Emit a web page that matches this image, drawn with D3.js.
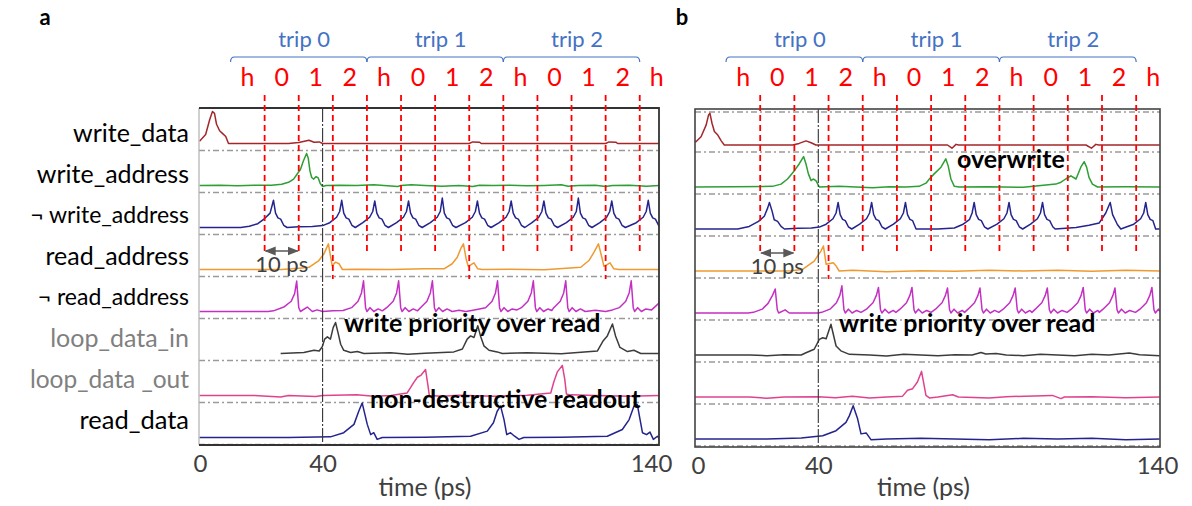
<!DOCTYPE html>
<html>
<head>
<meta charset="utf-8">
<script src="https://cdn.jsdelivr.net/npm/d3@7"></script>
<style>
  body { margin: 0; background: #fff; }
  svg { display: block; font-family: Lato, "Open Sans", sans-serif; }
</style>
</head>
<body>
<svg width="1192" height="506"></svg>
<script>
// ---- data (time in ps, value in normalised trace units) ----
const rows = ["write_data", "write_address", "\u00AC write_address", "read_address",
              "\u00AC read_address", "loop_data_in", "loop_data _out", "read_data"];
const slotNames = ["h", "0", "1", "2"];
const tripNames = ["trip 0", "trip 1", "trip 2"];
const tickValues = [0, 40, 140];
const slotEdges = [23, 33, 43, 53, 63, 73, 83, 93, 103, 113, 123, 133];
const slotCentres = [18, 28, 38, 48, 58, 68, 78, 88, 98, 108, 118, 128, 138];
const tripStarts = [13, 53, 93];
const readEdgesA = [43, 83, 123];
const readEdgesB = [43];

// panel a
const aWriteData = [[3.9,0.07],[5.7,0.28],[6.9,0.75],[7.7,1.0],[8.3,0.94],[8.9,0.6],[9.8,0.4],[10.7,0.31],[11.6,0.22],[12.4,0],
  [30,0],[33,0.03],[35,0.08],[36,0.1],[37.5,0.04],[39,0.05],[40,0],[83,0],[84,0.05],[86,0.04],[86.5,0],[123,0],[124,0.05],[126,0.04],[126.5,0],[139,0]];
const aWriteAddr = [[3.9,0],[10,0.01],[15,-0.01],[20,0.01],[25,0.01],[28,0.04],[30,0.1],[31.5,0.2],[32.8,0.4],[33.5,0.5],[34.3,0.75],[35.3,1.0],
  [35.8,0.85],[36.3,0.45],[36.8,0.25],[37.4,0.2],[38.1,0.28],[38.7,0.24],[39.3,0.06],[40,-0.03],[41,0],[45,0.01],[50,0],[55,0.02],[58,0],
  [62,-0.03],[63,0],[66,0.02],[70,0],[75,-0.02],[80,0],[84,-0.03],[86,0.01],[90,0],[95,0.01],[100,-0.01],[105,0],[110,0.02],[112,-0.02],
  [115,0],[120,0.01],[123,-0.03],[125,0],[130,0.01],[135,-0.02],[139,0]];
const aNotWrite = [[3.9,0],[16,0],[18.5,0.04],[21,0.12],[23,0.28],[24.6,0.45],
  [25.6,0.85],[26.2,0.45],[26.9,0.3],[27.7,0.26],[28.6,0.07],[29.6,0],[33,0.02],[37,0.03],[40,0.06],
  [42.1,0.15],[44.1,0.32],[45,0.5],[45.6,0.85],[46.2,0.45],[46.9,0.3],[47.7,0.26],[48.6,0.07],[49.6,0],
  [51.8,0.15],[53.8,0.32],[54.7,0.5],[55.3,0.83],[55.9,0.45],[56.6,0.3],[57.4,0.26],[58.3,0.07],[59.3,0],
  [61.7,0.15],[63.7,0.32],[64.6,0.5],[65.2,0.83],[65.8,0.45],[66.5,0.3],[67.3,0.26],[68.2,0.07],[69.2,0],
  [71.6,0.15],[73.6,0.32],[74.5,0.5],[75.1,0.92],[75.7,0.45],[76.4,0.3],[77.2,0.26],[78.1,0.07],[79.1,0],
  [81.9,0.15],[83.9,0.32],[84.8,0.5],[85.4,0.83],[86,0.45],[86.7,0.3],[87.5,0.26],[88.4,0.07],[89.4,0],
  [91.8,0.15],[93.8,0.32],[94.7,0.5],[95.3,0.83],[95.9,0.45],[96.6,0.3],[97.4,0.26],[98.3,0.07],[99.3,0],
  [101.4,0.15],[103.4,0.32],[104.3,0.5],[104.9,0.83],[105.5,0.45],[106.2,0.3],[107,0.26],[107.9,0.07],[108.9,0],
  [111.5,0.15],[113.5,0.32],[114.4,0.5],[115,0.92],[115.6,0.45],[116.3,0.3],[117.1,0.26],[118,0.07],[119,0],
  [121.3,0.15],[123.3,0.32],[124.2,0.5],[124.8,0.83],[125.4,0.45],[126.1,0.3],[126.9,0.26],[127.8,0.07],[128.8,0],
  [132,0.15],[134,0.32],[134.9,0.5],[135.5,0.85],[136.1,0.45],[136.8,0.3],[137.6,0.26],[138.5,0.07],[139,0.02]];
const aReadAddr = [[3.9,0],[28,0],[31,0.02],[34,0.05],[36,0.07],[38.9,0.28],[40.4,0.49],[41.7,0.8],[42.8,0.12],[43.8,0.23],[44.8,0.18],[45.8,0],
  [50,0.01],[60,0],[70,0.02],[75.6,0.02],[78,0.18],[79.5,0.38],[80.5,0.65],[81.3,0.8],[82.1,0.33],[82.7,0.1],[84.4,0.21],[85.5,0.02],[86.8,0],
  [95,0.01],[105,-0.01],[115.7,0.07],[118.1,0.28],[119.6,0.54],[120.9,0.8],[122,0.33],[122.5,0.1],[124.3,0.21],[125.4,0.02],[126.9,0],[139,0]];
const aNotRead = [[3.9,0],[24,0],[25.6,0.02],[28.8,0.15],[30.8,0.32],[31.8,0.56],[32.4,0.95],[33,0.12],[33.5,0],[35.5,0.14],[37,0],[38.4,0.05],[40,0],[43,0.02],[46,0.03],
  [48.5,0.12],[50.4,0.32],[51.4,0.58],[52,0.96],[52.6,0.12],[53,0],[53.9,0.12],[55,0],[56.3,0.08],[57.5,0.02],
  [58.8,0.12],[60.7,0.32],[61.7,0.58],[62.3,0.96],[62.9,0.12],[63.3,0],[64.2,0.12],[65.3,0],[66.6,0.08],[67.8,0.02],
  [68.7,0.12],[70.6,0.32],[71.6,0.58],[72.2,0.96],[72.8,0.12],[73.2,0],[74.1,0.12],[75.2,0],[76.5,0.08],[78,0],[80,0.04],[82,0],[84.5,0.05],
  [87.8,0.12],[89.7,0.32],[90.7,0.58],[91.3,0.96],[91.9,0.12],[92.3,0],[93.2,0.12],[94.3,0],[95.6,0.08],[97,0.05],
  [98.3,0.12],[100.2,0.32],[101.2,0.58],[101.8,0.96],[102.4,0.12],[102.8,0],[103.7,0.12],[104.8,0],[106.1,0.08],[107.2,0.03],
  [107.8,0.12],[109.7,0.32],[110.7,0.58],[111.3,0.96],[111.9,0.12],[112.3,0],[113.2,0.12],[114.3,0],[115.6,0.08],[117,0],[120,0.04],[123,0],[125,0.05],
  [127,0.12],[128.9,0.32],[129.9,0.58],[130.5,0.96],[131.1,0.12],[131.5,0],[132.4,0.12],[133.5,0],[134.8,0.08],[136.5,0.05],[138,0.2],[139,0.3]];
const aLoopIn = [[27.7,0],[34.5,0.03],[37.5,0.1],[39,0.08],[39.9,0.21],[40.6,0.45],[41.4,0.52],[42.3,0.45],[43.1,0.81],[43.8,0.97],[44.5,0.66],
  [45.3,0.29],[46.2,0.1],[48.2,0.03],[50.2,0.06],[52.1,0],[60,0.02],[65,-0.02],[70,0.01],[78.5,0.05],[81,0.14],[82.4,0.45],[83.4,0.55],
  [84.4,0.5],[85.5,0.87],[86.3,0.55],[87.3,0.24],[88.8,0.1],[91.2,0.05],[92.7,0],[100,0.02],[110,-0.01],[120.6,0.08],[122.3,0.4],[123.5,0.55],
  [125,0.92],[125.9,0.55],[127.2,0.19],[129.4,0.06],[131.3,0.1],[133.3,0],[139,0]];
const aLoopOut = [[3.9,0],[20,0],[27.7,-0.05],[30,0],[38,-0.03],[40,0],[50,0.02],[55,-0.02],[60,0],[64.8,0.08],[66.8,0.42],[67.8,0.57],
  [68.9,0.64],[70.2,0.81],[70.9,0.31],[71.3,0],[75,-0.02],[80,0.01],[90,-0.02],[100,0.01],[106.9,0.08],[107.8,0.42],[108.8,0.73],
  [110.3,0.94],[111,0.52],[111.5,0.05],[112.7,0.02],[120,0],[130,-0.02],[139,0]];
const aReadData = [[3.9,0],[30,0],[42.3,0.02],[46.2,0.15],[49.2,0.41],[50.6,0.82],[51.6,1.08],[52.3,0.77],[53.1,0.41],[54.1,0.09],[55,0.15],
  [56,-0.06],[57.5,0],[70,0.01],[83.4,0.04],[88.3,0.2],[90.1,0.46],[91.2,0.82],[92.2,0.98],[93.2,0.56],[94,0.09],[95.1,0.15],[96.3,0.04],
  [97.6,-0.06],[99,0],[110,0.01],[123.5,0.04],[127.9,0.25],[129.9,0.56],[131.3,0.98],[132.3,1.03],[133.1,0.56],[133.8,0.15],[135,0.09],
  [136,0.17],[137,-0.06],[138.2,0.04],[139,-0.05]];

// panel b
const bWriteData = [[3.7,0.12],[4.2,0.1],[5.7,0.26],[7.2,0.63],[7.9,0.94],[8.3,0.99],[8.9,0.68],[9.6,0.42],[10.6,0.31],[11.6,0.13],[12.5,0],
  [32.5,0],[34.4,0.05],[36.4,0.13],[37.9,0.07],[39.3,0],[77.8,0],[79.1,-0.1],[80.3,0.02],[81,0],[118.3,0],[119.9,-0.1],[121.2,0.02],[122,0],[139.9,0]];
const bWriteAddr = [[3.7,0],[15,0.01],[26.6,0.02],[29.1,0.09],[31,0.25],[33,0.51],[34.4,0.72],[35.7,0.95],[36.4,0.72],[37.1,0.41],[37.9,0.2],
  [38.5,0.25],[39.3,0.2],[40.3,0],[46.1,0.02],[55.9,-0.02],[60.8,0.01],[65.6,0],[69.5,0.02],[71.5,0.12],[72.5,0.25],[73.9,0.41],[75.9,0.62],
  [77.3,0.88],[78,0.66],[78.8,0.25],[79.8,0.02],[81.2,0],[90,0.01],[100,-0.01],[109.5,0.09],[111,0.15],[112.4,0.25],[113.9,0.35],[115.4,0.25],
  [116.8,0.62],[117.8,0.79],[118.5,0.62],[119.2,0.3],[120.2,0.09],[121.7,0],[130,0.01],[139.9,0]];
const bNotWrite = [[3.7,0],[16.4,0],[19.8,0.08],[22.5,0.24],[24.2,0.4],[25.2,0.66],[25.7,0.83],[26.5,0.55],[27.1,0.29],[28.1,0.24],[29.1,0.08],
  [30.1,0],[34,0.02],[38,0.03],[40.3,0.06],
  [42.3,0.15],[44.3,0.32],[45.2,0.5],[45.8,0.83],[46.4,0.45],[47.1,0.3],[47.9,0.26],[48.8,0.07],[49.8,0],
  [52.1,0.15],[54.1,0.32],[55,0.5],[55.6,0.83],[56.2,0.45],[56.9,0.3],[57.7,0.26],[58.6,0.07],[59.6,0],
  [62,0.15],[64,0.32],[64.9,0.5],[65.5,0.83],[66.1,0.45],[66.8,0.3],[67.6,0.26],[68.6,0],[75,0],[79.8,0.03],[82.2,0.14],[84.2,0.29],[85,0.5],
  [85.6,0.83],[86.2,0.45],[86.9,0.3],[87.7,0.26],[88.6,0.07],[89.6,0],
  [92.3,0.15],[94.3,0.32],[95.2,0.5],[95.8,0.83],[96.4,0.45],[97.1,0.3],[97.9,0.26],[98.8,0.07],[99.8,0],
  [102.1,0.15],[104.1,0.32],[105,0.5],[105.6,0.83],[106.2,0.45],[106.9,0.3],[107.7,0.26],[108.6,0.07],[109.3,0],
  [115.4,0.05],[119.2,0.12],[122.2,0.19],[124.1,0.5],[125.4,0.83],[126.1,0.45],[127.5,0.14],[128.5,0],
  [132.3,0.15],[134.3,0.32],[135.2,0.5],[135.8,0.83],[136.4,0.45],[137.1,0.3],[137.9,0.26],[138.7,0],[139.9,0]];
const bReadAddr = [[3.7,0],[28,0],[32,0.01],[35.4,0.05],[38.8,0.31],[40.8,0.63],[41.5,0.78],[42.3,0.21],[44.4,0.26],[45.2,0.16],[46.1,0],
  [50,0.02],[60,-0.02],[70,0.01],[80,-0.01],[90,0.02],[100,0],[110,0.02],[120,-0.01],[130,0.02],[139.9,0]];
const bNotRead = [[3.7,0],[19.5,0],[21,0.02],[23.6,0.12],[25.3,0.3],[26.6,0.55],[27.4,0.75],[28,0.1],[28.4,0],[30.3,0.1],[31.5,0],[40,0],[41,0.02],
  [43.4,0.12],[45.3,0.32],[46.3,0.55],[46.9,0.85],[47.5,0.1],[47.9,0],[48.8,0.12],[49.9,0],[51.2,0.08],[52.5,0.02],
  [54.1,0.12],[56,0.32],[57,0.55],[57.6,0.8],[58.2,0.1],[58.6,0],[59.5,0.12],[60.6,0],[61.9,0.08],[62.7,0.02],
  [63.9,0.12],[65.8,0.32],[66.8,0.55],[67.4,0.8],[68,0.1],[68.4,0],[69.3,0.12],[70.4,0],[71.7,0.08],[73,0.02],
  [74.3,0.12],[76.2,0.32],[77.2,0.55],[77.8,0.78],[78.4,0.1],[78.8,0],[79.7,0.12],[80.8,0],[82.1,0.08],[82.8,0.02],
  [83.8,0.12],[85.7,0.32],[86.7,0.55],[87.3,0.78],[87.9,0.1],[88.3,0],[89.2,0.12],[90.3,0],[91.6,0.08],[92.8,0.02],
  [94.1,0.12],[96,0.32],[97,0.55],[97.6,0.78],[98.2,0.1],[98.6,0],[99.5,0.12],[100.6,0],[101.9,0.08],[102.5,0.02],
  [103.5,0.12],[105.4,0.32],[106.4,0.55],[107,0.78],[107.6,0.1],[108,0],[108.9,0.12],[110,0],[111.3,0.08],[112.8,0.02],
  [114,0.12],[115.9,0.32],[116.9,0.55],[117.5,0.8],[118.1,0.1],[118.5,0],[119.4,0.12],[120.5,0],[121.8,0.08],[122.2,0.02],
  [123.3,0.12],[125.2,0.32],[126.2,0.55],[126.8,0.78],[127.4,0.1],[127.8,0],[128.7,0.12],[129.8,0],[131.1,0.08],[132.8,0.02],
  [134.1,0.12],[136,0.32],[137,0.55],[137.6,0.8],[138.2,0.1],[138.6,0],[139.5,0.12],[139.9,0.05]];
const bLoopIn = [[3.7,0],[20,0],[25,-0.02],[30,0.01],[35,0],[36.4,0.07],[38.8,0.18],[40.3,0.49],[41.3,0.54],[42.3,0.51],[43.7,0.96],[45.2,0.28],
  [46.6,0.13],[49.1,0.02],[55,0],[60,-0.03],[65,0.02],[70,0],[75,-0.02],[80,0.01],[85,0],[87.6,0.08],[89,0.03],[92,0.05],[95,0],[100,-0.02],
  [105,0.02],[110,0],[115,-0.02],[120,0.02],[125,0],[128,0.03],[131,0.06],[134,0.01],[139.9,-0.02]];
const bLoopOut = [[3.7,0],[20,0],[25,-0.04],[30,0],[40,0.01],[45,-0.02],[50,0.02],[55,-0.03],[60,0],[64.6,0.02],[66.1,0.21],[67.6,0.26],
  [69,0.47],[70.2,0.8],[71.5,0.05],[72.5,-0.03],[75,0],[79.3,0.07],[81,0],[90,-0.03],[95,0.01],[108.5,0.05],[111,-0.05],[112,0],[120,0.01],
  [130,-0.02],[139.9,0]];
const bReadData = [[3.7,0],[25,0],[35,0.03],[41.3,0.1],[45.2,0.26],[48.1,0.52],[49.1,0.73],[50.2,1.04],[51.5,0.63],[52.5,0.16],[54,0.19],
  [55.4,-0.02],[60,0],[70,0.02],[80,0],[90,-0.02],[100,0.02],[110,0],[120,0.02],[130,-0.02],[139.9,0]];

// ---- styling ----
const traceColors = ["#A3262B", "#2E9E35", "#24248E", "#EE9A30", "#C42FC4", "#3C3C3C", "#E0438E", "#24248E"];
const labelColors = ["#000", "#000", "#000", "#000", "#000", "#808080", "#808080", "#000"];
const labelSizes = [25, 25, 23, 25, 23, 25, 24.5, 25.5];
const red = "#FF0000", blue = "#4472C4", grey = "#404040";

const svg = d3.select("svg");
const defs = svg.append("defs");
defs.append("marker").attr("id", "arr").attr("viewBox", "0 0 10 10")
  .attr("refX", 9).attr("refY", 5).attr("markerWidth", 7).attr("markerHeight", 7)
  .attr("orient", "auto-start-reverse")
  .append("path").attr("d", "M0,1 L10,5 L0,9 z").attr("fill", "#595959");

const panels = [
  { key: "a", traces: [aWriteData, aWriteAddr, aNotWrite, aReadAddr, aNotRead, aLoopIn, aLoopOut, aReadData],
    x40: 322.6, k: 3.41, left: 199, right: 659, top: 108, bottom: 445, base: 35.5, dash: 42.5,
    ticks: [200, 322.6, 651], readEdges: readEdgesA, letterX: 45,
    notes: [["write priority over read", 344, 332], ["non-destructive readout", 370, 408]] },
  { key: "b", traces: [bWriteData, bWriteAddr, bNotWrite, bReadAddr, bNotRead, bLoopIn, bLoopOut, bReadData],
    x40: 818.3, k: 3.418, left: 695, right: 1160, top: 109, bottom: 447, base: 36, dash: 43,
    ticks: [698, 818.3, 1157], readEdges: readEdgesB, letterX: 682,
    notes: [["overwrite", 957, 168], ["write priority over read", 839, 332]] }
];

panels.forEach(p => {
  const x = d3.scaleLinear().domain([0, 140]).range([p.x40 - 40 * p.k, p.x40 + 100 * p.k]);
  const row = d3.scaleBand().domain(rows).range([p.top, p.top + 42 * rows.length]);
  const v = d3.scaleLinear().domain([0, 1]).range([p.base, p.base - 32]);
  const g = svg.append("g");

  // panel letter
  g.append("text").attr("x", p.letterX).attr("y", 25).attr("text-anchor", "middle")
    .attr("font-size", 22).attr("font-weight", "bold").text(p.key);

  // trip brackets
  tripStarts.forEach((t0, i) => {
    const x0 = x(t0), x1 = x(t0 + 40), y = 57;
    g.append("path")
      .attr("d", `M${x0},${y + 5} Q${x0},${y} ${x0 + 4},${y} L${x1 - 4},${y} Q${x1},${y} ${x1},${y + 5}`)
      .attr("fill", "none").attr("stroke", blue).attr("stroke-width", 1.2);
    g.append("text").attr("x", x(t0 + 21.6)).attr("y", 47).attr("text-anchor", "middle")
      .attr("font-size", 22).attr("fill", blue).text(tripNames[i]);
  });

  // slot labels
  g.selectAll(".slot").data(slotCentres).join("text")
    .attr("x", d => x(d)).attr("y", 86).attr("text-anchor", "middle")
    .attr("font-size", 25).attr("fill", red)
    .text((d, i) => slotNames[i % 4]);

  // dashed reference lines under each trace
  g.selectAll(".ref").data(rows).join("line")
    .attr("x1", p.left).attr("x2", p.right)
    .attr("y1", d => row(d) + p.dash).attr("y2", d => row(d) + p.dash)
    .attr("stroke", "#9a9a9a").attr("stroke-width", 1.6).attr("stroke-dasharray", "6,3,2,3");
  if (p.key === "b") {
    g.append("line").attr("x1", p.left).attr("x2", p.right).attr("y1", p.top + 3).attr("y2", p.top + 3)
      .attr("stroke", "#9a9a9a").attr("stroke-width", 1.4).attr("stroke-dasharray", "6,3,2,3");
  }

  // traces
  const clipId = "clip" + p.key;
  defs.append("clipPath").attr("id", clipId).append("rect")
    .attr("x", p.left).attr("y", p.top).attr("width", p.right - p.left).attr("height", p.bottom - p.top);
  const line = d3.line().x(d => x(d[0]));
  const tg = g.append("g").attr("clip-path", `url(#${clipId})`);
  p.traces.forEach((tr, i) => {
    tg.append("path").datum(tr)
      .attr("d", line.y(d => row(rows[i]) + v(d[1])))
      .attr("fill", "none").attr("stroke", traceColors[i]).attr("stroke-width", 1.5)
      .attr("stroke-linejoin", "round");
  });

  // 40 ps marker
  g.append("line").attr("x1", x(40)).attr("x2", x(40)).attr("y1", p.top).attr("y2", p.bottom)
    .attr("stroke", "#333").attr("stroke-width", 1.1).attr("stroke-dasharray", "14,2,2,2");

  // frame
  if (p.key === "a") {
    g.append("line").attr("x1", p.left).attr("x2", p.left).attr("y1", p.top).attr("y2", p.bottom)
      .attr("stroke", "#b0b0b0").attr("stroke-width", 1.2);
    g.append("path").attr("d", `M${p.left},${p.top} H${p.right} V${p.bottom} H${p.left}`)
      .attr("fill", "none").attr("stroke", "#333").attr("stroke-width", 1.8);
  } else {
    g.append("rect").attr("x", p.left).attr("y", p.top).attr("width", p.right - p.left).attr("height", p.bottom - p.top)
      .attr("fill", "none").attr("stroke", "#444").attr("stroke-width", 1.6);
  }

  // red slot boundaries
  g.selectAll(".edge").data(slotEdges).join("line")
    .attr("x1", d => x(d)).attr("x2", d => x(d)).attr("y1", 95)
    .attr("y2", d => p.readEdges.includes(d) ? 279 : 255)
    .attr("stroke", red).attr("stroke-width", 1.8).attr("stroke-dasharray", "6,4");

  // 10 ps scale arrow
  const ay = p.key === "a" ? 251 : 253;
  g.append("line").attr("x1", x(23) + 1).attr("x2", x(33) - 1).attr("y1", ay).attr("y2", ay)
    .attr("stroke", "#595959").attr("stroke-width", 1.6)
    .attr("marker-start", "url(#arr)").attr("marker-end", "url(#arr)");
  g.append("text").attr("x", x(28)).attr("y", ay + 21).attr("text-anchor", "middle")
    .attr("font-size", 22).attr("fill", grey).text("10 ps");

  // x axis labels
  const tx = d3.scaleLinear().domain(tickValues).range(p.ticks);
  const ax = g.append("g").attr("transform", `translate(0,${p.bottom + 7})`)
    .call(d3.axisBottom(tx).tickValues(tickValues).tickSize(0).tickFormat(d3.format("d")));
  ax.select(".domain").remove();
  ax.selectAll("text").attr("font-family", "Lato, 'Open Sans', sans-serif")
    .attr("font-size", 24).attr("fill", grey).attr("dy", "0.71em");
  g.append("text").attr("x", (p.left + p.right) / 2 - 4).attr("y", 496).attr("text-anchor", "middle")
    .attr("font-size", 25).attr("fill", grey).text("time (ps)");

  // bold annotations
  p.notes.forEach(n => {
    g.append("text").attr("x", n[1]).attr("y", n[2]).attr("font-size", 25).attr("font-weight", "bold")
      .attr("fill", "#000").text(n[0]);
  });
});

// row labels (panel a)
const labelY = d3.scalePoint().domain(rows).range([133, 420]);
svg.append("g").selectAll("text").data(rows).join("text")
  .attr("x", 189).attr("y", d => labelY(d)).attr("dy", "0.35em").attr("text-anchor", "end")
  .attr("font-size", (d, i) => labelSizes[i]).attr("fill", (d, i) => labelColors[i]).text(d => d);
</script>
</body>
</html>
